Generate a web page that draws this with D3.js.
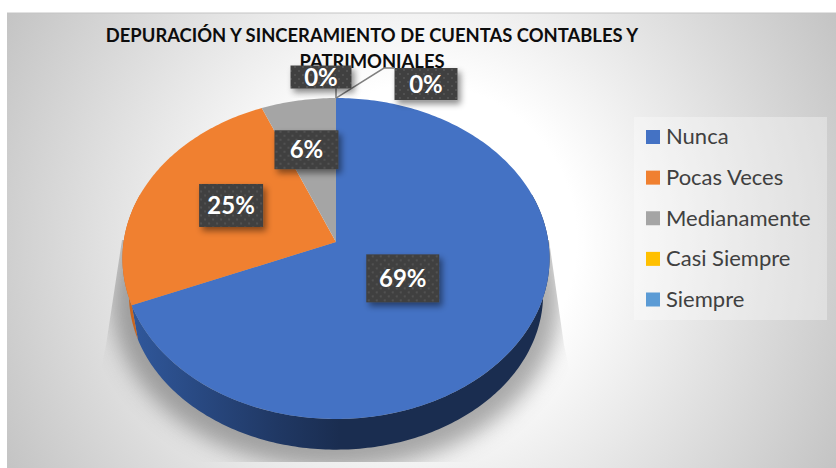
<!DOCTYPE html>
<html>
<head>
<meta charset="utf-8">
<script src="https://cdn.jsdelivr.net/npm/d3@7"></script>
<style>
  html, body { margin: 0; padding: 0; background: #fff; }
  svg { display: block; font-family: Lato, "Open Sans", sans-serif; }
</style>
</head>
<body>
<script>
var titleLines = ["DEPURACIÓN Y SINCERAMIENTO DE CUENTAS CONTABLES Y", "PATRIMONIALES"];
var categories = ["Nunca", "Pocas Veces", "Medianamente", "Casi Siempre", "Siempre"];
var responses = [11, 4, 1, 0, 0];
var colors = ["#4472c4", "#f08030", "#a5a5a5", "#ffc000", "#5b9bd5"];

// where each label sits: fraction of radius along the slice middle, then nudge in px
var labelPlace = [[0.37, 0, 3], [0.53, -3, -5], [0.63, -5, 0], [1, -15, -21], [1, 90, -14]];
var labelSize = [[73, 48], [64, 43], [64, 39], [61, 23], [63, 32]];

var width = 836, height = 468;

var svg = d3.select("body").append("svg")
    .attr("width", width)
    .attr("height", height);

var defs = svg.append("defs");

var bg = defs.append("radialGradient").attr("id", "bg")
    .attr("gradientUnits", "userSpaceOnUse")
    .attr("cx", 421).attr("cy", 240).attr("r", 472);
bg.append("stop").attr("offset", "0.33").attr("stop-color", "#ffffff");
bg.append("stop").attr("offset", "1").attr("stop-color", "#c4c4c4");

var wall = defs.append("linearGradient").attr("id", "wallBlue")
    .attr("gradientUnits", "userSpaceOnUse")
    .attr("x1", 130).attr("x2", 340).attr("y1", 0).attr("y2", 0);
wall.append("stop").attr("offset", "0").attr("stop-color", "#30589c");
wall.append("stop").attr("offset", "0.7").attr("stop-color", "#203864");
wall.append("stop").attr("offset", "1").attr("stop-color", "#1a2d50");

var dots = defs.append("pattern").attr("id", "dots")
    .attr("patternUnits", "userSpaceOnUse")
    .attr("width", 8).attr("height", 8);
dots.append("rect").attr("width", 8).attr("height", 8).attr("fill", "#404040");
dots.append("circle").attr("cx", 2).attr("cy", 2).attr("r", 1).attr("fill", "#565656");
dots.append("circle").attr("cx", 6).attr("cy", 6).attr("r", 1).attr("fill", "#565656");

var soft = defs.append("filter").attr("id", "soft")
    .attr("x", "-20%").attr("y", "-20%").attr("width", "140%").attr("height", "140%");
soft.append("feGaussianBlur").attr("stdDeviation", 11);

var drop = defs.append("filter").attr("id", "drop")
    .attr("x", "-30%").attr("y", "-30%").attr("width", "170%").attr("height", "170%");
drop.append("feDropShadow").attr("dx", 3).attr("dy", 4).attr("stdDeviation", 3)
    .attr("flood-color", "#000").attr("flood-opacity", 0.45);

defs.append("clipPath").attr("id", "shadowClip").append("polygon")
    .attr("points", "122,240 549,240 564,345 590,462 80,462 106,345");

// chart area
svg.append("rect").attr("x", 7).attr("y", 13).attr("width", width - 7).attr("height", height - 13)
    .attr("fill", "url(#bg)");
svg.append("line").attr("x1", 7).attr("x2", width).attr("y1", 13).attr("y2", 13)
    .attr("stroke", "#c4c4c4");

// tilted disc: u,v on the unit circle go to screen through a perspective divide
var tilt = -0.1028;
var xScale = d3.scaleLinear().domain([-1, 1]).range([336 - 212.4, 336 + 212.4]);
var yScale = d3.scaleLinear().domain([-1, 1]).range([242 - 133.9, 242 + 133.9]);

function project(angle, r, lower) {
  var u = Math.sin(angle) * r, v = -Math.cos(angle) * r;
  var w = 1 + tilt * v;
  var x = 336 + (xScale(u) - 336) / w;
  var y = 242 + (yScale(v) - 242 + 242 * (1 - w)) / w;
  if (lower) {
    x = 336 + (x - 336) * 0.97;
    y = 278 + (y - 242) * 0.97;
  }
  return [x, y];
}

function steps(a0, a1) {
  var n = Math.max(2, Math.ceil(Math.abs(a1 - a0) * 60));
  return d3.range(n + 1).map(function(i) { return a0 + (a1 - a0) * i / n; });
}

var line = d3.line();
var color = d3.scaleOrdinal().domain(categories).range(colors);
var fmt = d3.format(".0%");
var total = d3.sum(responses);

var pie = d3.pie().sort(null).value(function(d) { return d.value; });
var slices = pie(categories.map(function(c, i) { return { name: c, value: responses[i] }; }));

// shadow under the disc, cut sharp by the clip on the sides
var shadow = svg.append("g").attr("clip-path", "url(#shadowClip)")
  .append("g").attr("filter", "url(#soft)").attr("opacity", 0.5);
shadow.append("path")
    .attr("d", line(steps(0, 2 * Math.PI).map(function(a) { return project(a, 1.08, true); })) + "Z")
    .attr("fill", "#555")
    .attr("transform", "translate(0,4)");
shadow.append("path")
    .attr("d", line(steps(0, 2 * Math.PI).map(function(a) { return project(a, 1.02, false); })) + "Z")
    .attr("fill", "#555");

// side wall, only the front of the disc
var frontFrom = Math.PI * 0.4, frontTo = Math.PI * 1.6;
svg.selectAll("path.wall")
    .data(slices.filter(function(d) { return d.value > 0; }))
  .enter().append("path")
    .attr("class", "wall")
    .attr("d", function(d) {
      var a0 = Math.max(d.startAngle, frontFrom), a1 = Math.min(d.endAngle, frontTo);
      if (a1 <= a0) return null;
      var top = steps(a0, a1).map(function(a) { return project(a, 1, false); });
      var low = steps(a1, a0).map(function(a) { return project(a, 1, true); });
      return line(top.concat(low)) + "Z";
    })
    .attr("fill", function(d) { return d.index === 0 ? "url(#wallBlue)" : "#c9651f"; });

// top face
svg.selectAll("path.slice")
    .data(slices.filter(function(d) { return d.value > 0; }))
  .enter().append("path")
    .attr("class", "slice")
    .attr("d", function(d) {
      var rim = steps(d.startAngle, d.endAngle).map(function(a) { return project(a, 1, false); });
      return line([project(0, 0, false)].concat(rim)) + "Z";
    })
    .attr("fill", function(d) { return color(d.data.name); });

// title
svg.append("g").selectAll("text")
    .data(titleLines)
  .enter().append("text")
    .attr("x", 372)
    .attr("y", function(d, i) { return 42 + i * 26; })
    .attr("text-anchor", "middle")
    .attr("font-size", 18.4)
    .attr("font-weight", 700)
    .attr("fill", "#0d0d0d")
    .text(function(d) { return d; });

// leader lines for the two empty slices
var rimTop = project(0, 1, false);
svg.append("path")
    .attr("d", line([rimTop, [rimTop[0], rimTop[1] - 12]]))
    .attr("fill", "none").attr("stroke", "#7f7f7f").attr("stroke-width", 1.5);
svg.append("path")
    .attr("d", line([rimTop, [rimTop[0] + 48, rimTop[1] - 30], [rimTop[0] + 58, rimTop[1] - 30]]))
    .attr("fill", "none").attr("stroke", "#7f7f7f").attr("stroke-width", 1.5);

// data labels
var label = svg.selectAll("g.label")
    .data(slices)
  .enter().append("g")
    .attr("class", "label")
    .attr("transform", function(d, i) {
      var p = project((d.startAngle + d.endAngle) / 2, labelPlace[i][0], false);
      return "translate(" + (p[0] + labelPlace[i][1]) + "," + (p[1] + labelPlace[i][2]) + ")";
    });
label.append("rect")
    .attr("x", function(d, i) { return -labelSize[i][0] / 2; })
    .attr("y", function(d, i) { return -labelSize[i][1] / 2; })
    .attr("width", function(d, i) { return labelSize[i][0]; })
    .attr("height", function(d, i) { return labelSize[i][1]; })
    .attr("fill", "url(#dots)")
    .attr("filter", "url(#drop)");
label.append("text")
    .attr("text-anchor", "middle")
    .attr("dy", "0.36em")
    .attr("font-size", 24)
    .attr("font-weight", 700)
    .attr("fill", "#fff")
    .text(function(d) { return fmt(d.value / total); });

// legend
svg.append("rect").attr("x", 634).attr("y", 117).attr("width", 193).attr("height", 203)
    .attr("fill", "#fff").attr("fill-opacity", 0.33);
var legendY = d3.scalePoint().domain(categories).range([137, 299.5]);
var legend = svg.selectAll("g.legend")
    .data(categories)
  .enter().append("g")
    .attr("class", "legend")
    .attr("transform", function(d) { return "translate(646," + legendY(d) + ")"; });
legend.append("rect")
    .attr("y", -7).attr("width", 14).attr("height", 14)
    .attr("fill", function(d) { return color(d); });
legend.append("text")
    .attr("x", 20)
    .attr("dy", "0.34em")
    .attr("font-size", 22)
    .attr("fill", "#404040")
    .text(function(d) { return d; });
</script>
</body>
</html>
